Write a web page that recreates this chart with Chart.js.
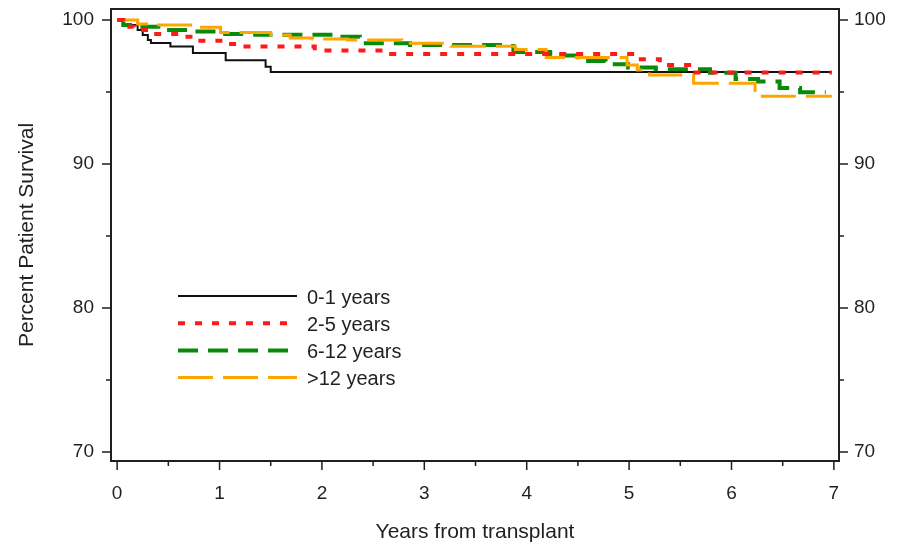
<!DOCTYPE html>
<html>
<head>
<meta charset="utf-8">
<script src="https://cdn.jsdelivr.net/npm/chart.js@4.4.1/dist/chart.umd.min.js"></script>
<style>
  html, body { margin: 0; padding: 0; background: #fff; }
</style>
</head>
<body>
<canvas id="chart" width="903" height="547"></canvas>
<script>
// Kaplan-Meier curves, values (years, percent)
const seriesNames = ['0-1 years', '2-5 years', '6-12 years', '>12 years'];

const years0_1 = [0, 0.06, 0.2, 0.25, 0.3, 0.33, 0.52, 0.74, 1.06, 1.45, 1.5, 6.98];
const surv0_1  = [100, 99.65, 99.3, 98.96, 98.6, 98.4, 98.15, 97.7, 97.2, 96.75, 96.38, 96.38];

const years2_5 = [0, 0.06, 0.16, 0.33, 0.66, 0.77, 1.06, 1.18, 1.93, 2.62, 5.08, 5.3, 5.62, 6.98];
const surv2_5  = [100, 99.53, 99.3, 99.03, 98.84, 98.56, 98.33, 98.15, 97.87, 97.64, 97.27, 96.87, 96.35, 96.35];

const years6_12 = [0, 0.06, 0.22, 0.47, 0.76, 1.03, 1.35, 2.13, 2.37, 2.86, 3.84, 3.87, 4.23, 4.5, 4.77, 4.99, 5.26, 5.79, 6.04, 6.26, 6.47, 6.67, 6.92];
const surv6_12  = [100, 99.65, 99.53, 99.3, 99.19, 99.03, 98.98, 98.84, 98.38, 98.26, 98.19, 97.78, 97.53, 97.15, 96.92, 96.7, 96.58, 96.34, 95.9, 95.72, 95.28, 94.98, 94.98];

const years12 = [0, 0.2, 0.37, 0.74, 1.01, 1.5, 1.69, 1.91, 2.25, 2.78, 3.26, 3.89, 4.19, 4.98, 5.08, 5.2, 5.63, 6.23, 6.98];
const surv12  = [100, 99.72, 99.65, 99.5, 99.13, 98.96, 98.75, 98.68, 98.61, 98.38, 98.17, 97.95, 97.4, 96.87, 96.53, 96.18, 95.6, 94.7, 94.7];

// tick labels
const xTicks = [0, 1, 2, 3, 4, 5, 6, 7];
const xMinorTicks = [0.5, 1.5, 2.5, 3.5, 4.5, 5.5, 6.5];
const yTicks = [70, 80, 90, 100];
const yMinorTicks = [75, 85, 95];

const textColor = '#1f1f24';
const fontFamily = "'Liberation Sans', Arial, sans-serif";

function pts(xs, ys) {
  return xs.map((x, i) => ({ x: x, y: ys[i] }));
}

// keep the plot box where it is in the picture
function noScalePadding(s) {
  s.paddingTop = 0;
  s.paddingBottom = 0;
  s.paddingLeft = 0;
  s.paddingRight = 0;
}

// frame round the plot + major/minor tick marks
const frameTicks = {
  id: 'frameTicks',
  afterDatasetsDraw(chart) {
    const { ctx, chartArea: a, scales } = chart;
    ctx.save();
    ctx.strokeStyle = textColor;
    ctx.lineWidth = 2;
    ctx.strokeRect(a.left, a.top, a.right - a.left, a.bottom - a.top);
    ctx.lineWidth = 1.5;
    ctx.beginPath();
    xTicks.concat(xMinorTicks).forEach(v => {
      const px = scales.x.getPixelForValue(v);
      const len = xTicks.includes(v) ? 9 : 5;
      ctx.moveTo(px, a.bottom);
      ctx.lineTo(px, a.bottom + len);
    });
    yTicks.concat(yMinorTicks).forEach(v => {
      const py = scales.y.getPixelForValue(v);
      const len = yTicks.includes(v) ? 9 : 5;
      ctx.moveTo(a.left, py);
      ctx.lineTo(a.left - len, py);
      ctx.moveTo(a.right, py);
      ctx.lineTo(a.right + len, py);
    });
    ctx.stroke();
    ctx.restore();
  }
};

// legend inside the plot, lower left
const innerLegend = {
  id: 'innerLegend',
  afterDatasetsDraw(chart, args, opts) {
    const { ctx } = chart;
    ctx.save();
    ctx.font = '20px ' + fontFamily;
    ctx.textBaseline = 'middle';
    ctx.fillStyle = textColor;
    chart.data.datasets.forEach((ds, i) => {
      const y = opts.y0 + i * opts.gap;
      ctx.beginPath();
      ctx.strokeStyle = ds.borderColor;
      ctx.lineWidth = ds.borderWidth;
      ctx.setLineDash(ds.borderDash || []);
      ctx.moveTo(opts.x0, y);
      ctx.lineTo(opts.x1, y);
      ctx.stroke();
      ctx.setLineDash([]);
      ctx.fillText(ds.label, opts.textX, y + 2);
    });
    ctx.restore();
  }
};

const config = {
  type: 'line',
  data: {
    datasets: [
      { label: seriesNames[0], data: pts(years0_1, surv0_1), borderColor: '#111111', borderWidth: 2, borderDash: [], order: 4 },
      { label: seriesNames[1], data: pts(years2_5, surv2_5), borderColor: '#ff1a1a', borderWidth: 4, borderDash: [7, 10], order: 1 },
      { label: seriesNames[2], data: pts(years6_12, surv6_12), borderColor: '#0a8a0a', borderWidth: 4, borderDash: [20, 10], order: 3 },
      { label: seriesNames[3], data: pts(years12, surv12), borderColor: '#ffa500', borderWidth: 3, borderDash: [35, 10], order: 2 }
    ]
  },
  options: {
    responsive: false,
    animation: false,
    layout: { padding: { top: 9, left: 0, right: 0, bottom: 0 } },
    elements: {
      point: { radius: 0 },
      line: { stepped: 'before', tension: 0, fill: false, borderCapStyle: 'butt' }
    },
    plugins: {
      legend: { display: false },
      tooltip: { enabled: false },
      innerLegend: { x0: 178, x1: 297, textX: 307, y0: 296, gap: 27.2 }
    },
    scales: {
      x: {
        type: 'linear',
        position: 'bottom',
        min: -0.06,
        max: 7.05,
        grid: { display: false },
        border: { display: false },
        afterBuildTicks: s => { s.ticks = xTicks.map(v => ({ value: v })); },
        afterFit: s => { s.height = 86; noScalePadding(s); },
        ticks: { padding: 13, color: textColor, font: { family: fontFamily, size: 19 }, maxRotation: 0 },
        title: { display: true, text: 'Years from transplant', color: textColor,
                 font: { family: fontFamily, size: 21 }, padding: { top: 0, bottom: 2 } }
      },
      y: {
        type: 'linear',
        position: 'left',
        min: 69.37,
        max: 100.76,
        grid: { display: false },
        border: { display: false },
        afterBuildTicks: s => { s.ticks = yTicks.map(v => ({ value: v })); },
        afterFit: s => { s.width = 111; noScalePadding(s); },
        ticks: { padding: 9, color: textColor, font: { family: fontFamily, size: 19 } },
        title: { display: true, text: 'Percent Patient Survival', color: textColor,
                 font: { family: fontFamily, size: 21 }, padding: { top: 15, bottom: 0 } }
      },
      y2: {
        type: 'linear',
        position: 'right',
        min: 69.37,
        max: 100.76,
        grid: { display: false },
        border: { display: false },
        afterBuildTicks: s => { s.ticks = yTicks.map(v => ({ value: v })); },
        afterFit: s => { s.width = 64; noScalePadding(s); },
        ticks: { padding: 7, color: textColor, font: { family: fontFamily, size: 19 } }
      }
    }
  },
  plugins: [frameTicks, innerLegend]
};

const ctx = document.getElementById('chart').getContext('2d');
const chart = new Chart(ctx, config);
</script>
</body>
</html>
